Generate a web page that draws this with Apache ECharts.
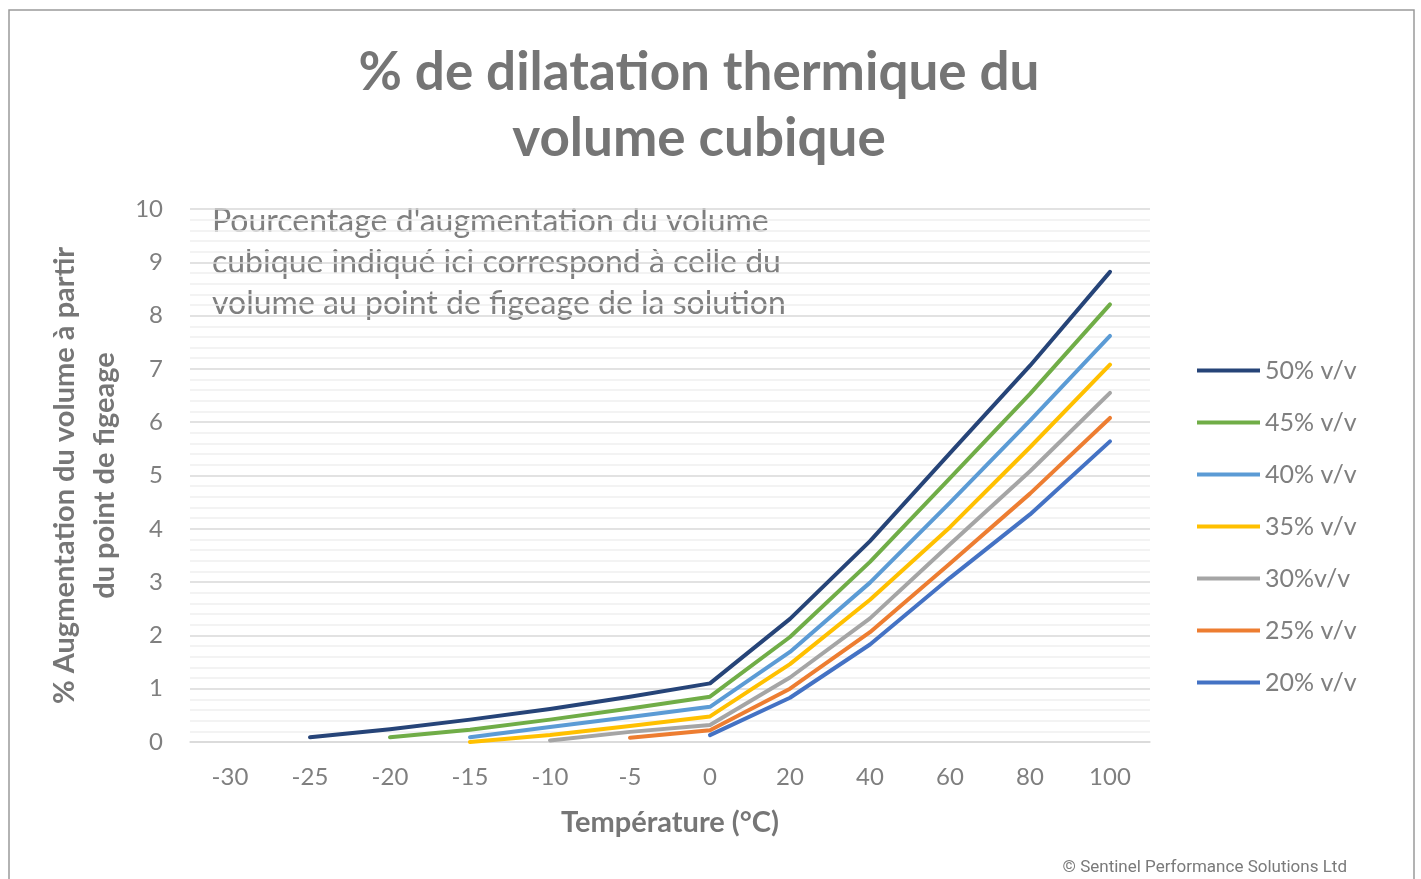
<!DOCTYPE html>
<html>
<head>
<meta charset="utf-8">
<script src="https://cdn.jsdelivr.net/npm/echarts@6/dist/echarts.min.js"></script>
<style>
html,body{margin:0;padding:0;background:#fff;}
#chart{width:1421px;height:879px;}
</style>
</head>
<body>
<div id="chart"></div>
<script>
const categories = ['-30','-25','-20','-15','-10','-5','0','20','40','60','80','100'];
const seriesNames = ['50% v/v','45% v/v','40% v/v','35% v/v','30%v/v','25% v/v','20% v/v'];
const v50 = [null, 0.09, 0.24, 0.42, 0.62, 0.85, 1.10, 2.31, 3.77, 5.42, 7.06, 8.82];
const v45 = [null, null, 0.09, 0.23, 0.42, 0.63, 0.85, 1.97, 3.38, 4.95, 6.53, 8.21];
const v40 = [null, null, null, 0.09, 0.28, 0.47, 0.66, 1.69, 2.99, 4.49, 6.03, 7.62];
const v35 = [null, null, null, 0.00, 0.13, 0.30, 0.48, 1.46, 2.67, 4.03, 5.53, 7.08];
const v30 = [null, null, null, null, 0.03, 0.19, 0.32, 1.21, 2.32, 3.71, 5.08, 6.55];
const v25 = [null, null, null, null, null, 0.08, 0.22, 1.00, 2.06, 3.35, 4.66, 6.08];
const v20 = [null, null, null, null, null, null, 0.13, 0.83, 1.83, 3.08, 4.27, 5.64];
const yTicks = [0,1,2,3,4,5,6,7,8,9,10];
const colors = ['#264478','#70AD47','#5B9BD5','#FFC000','#A5A5A5','#ED7D31','#4472C4'];
const titleText = '% de dilatation thermique du\nvolume cubique';
const noteText = "Pourcentage d'augmentation du volume\ncubique indiqué ici correspond à celle du\nvolume au point de figeage de la solution";
const yTitle = '% Augmentation du volume à partir\ndu point de figeage';
const xTitle = 'Température (°C)';
const credit = '© Sentinel Performance Solutions Ltd';

const allValues = [v50, v45, v40, v35, v30, v25, v20];
const FONT = 'Lato, "Open Sans", sans-serif';
const chart = echarts.init(document.getElementById('chart'), null, {renderer: 'canvas'});
chart.setOption({
  animation: false,
  backgroundColor: '#ffffff',
  color: colors,
  title: {
    text: titleText,
    left: 694, top: 35, textAlign: 'center',
    textStyle: {fontFamily: FONT, fontSize: 53, fontWeight: 'bold', color: '#757575', lineHeight: 66}
  },
  grid: {left: 190, right: 271, top: 209, bottom: 137},
  legend: {
    orient: 'vertical', left: 1192, top: 353,
    icon: 'rect', itemWidth: 63, itemHeight: 4, itemGap: 27,
    data: seriesNames,
    textStyle: {fontFamily: FONT, fontSize: 25, color: '#7f7f7f', lineHeight: 25, padding: [0,0,0,0]}
  },
  xAxis: {
    type: 'category', data: categories, boundaryGap: true,
    name: xTitle, nameLocation: 'middle', nameGap: 66,
    nameTextStyle: {fontFamily: FONT, fontSize: 29, fontWeight: 'bold', color: '#767676'},
    axisLine: {show: true, lineStyle: {color: '#d9d9d9', width: 1.5}},
    axisTick: {show: false},
    axisLabel: {fontFamily: FONT, fontSize: 24, color: '#7f7f7f', margin: 23}
  },
  yAxis: {
    type: 'value', min: yTicks[0], max: yTicks[yTicks.length-1], interval: 1,
    name: yTitle, nameLocation: 'middle', nameGap: 54, nameRotate: 90,
    nameTextStyle: {fontFamily: FONT, fontSize: 29, fontWeight: 'bold', color: '#767676', lineHeight: 40, align: 'center'},
    axisLine: {show: false}, axisTick: {show: false},
    axisLabel: {fontFamily: FONT, fontSize: 24, color: '#7f7f7f', margin: 27},
    splitLine: {show: true, lineStyle: {color: '#d9d9d9', width: 1.5}},
    minorTick: {show: false, splitNumber: 5},
    minorSplitLine: {show: true, lineStyle: {color: '#efefef', width: 1.5}}
  },
  graphic: [
    {type: 'rect', silent: true, shape: {x: 9, y: 10, width: 1405, height: 880},
     style: {fill: 'none', stroke: '#9a9a9a', lineWidth: 1.5}, z: -1},
    {type: 'text', left: 212, top: 201, silent: true,
     style: {text: noteText, fontFamily: FONT, fontSize: 32, fill: '#7f7f7f', lineHeight: 41}},
    {type: 'text', right: 1421-1347, top: 859, silent: true,
     style: {text: credit, fontFamily: 'Roboto, sans-serif', fontSize: 17, fill: '#7a7a7a'}}
  ],
  series: seriesNames.map((n, i) => ({
    name: n, type: 'line', data: allValues[i], symbol: 'none', connectNulls: false,
    lineStyle: {width: 4, color: colors[i], cap: 'round', join: 'round'},
    itemStyle: {color: colors[i]}
  }))
});
</script>
</body>
</html>
